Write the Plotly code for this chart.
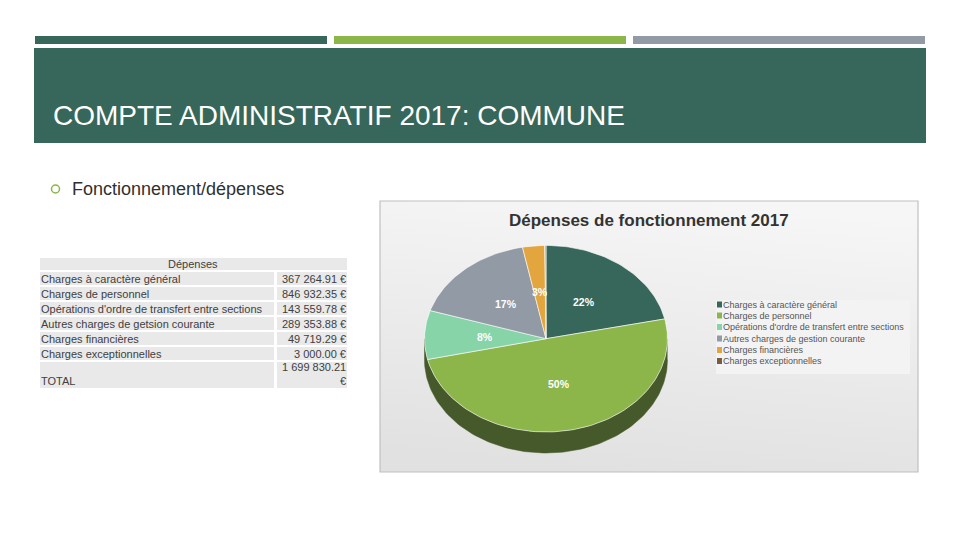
import base64
import math
import plotly.graph_objects as go

# ---------- data ----------
categories = ["Charges à caractère général", "Charges de personnel",
              "Opérations d'ordre de transfert entre sections",
              "Autres charges de getsion courante", "Charges financières",
              "Charges exceptionnelles"]
values = [367264.91, 846932.35, 143559.78, 289353.88, 49719.29, 3000.00]
amounts = ["367 264.91 €", "846 932.35 €", "143 559.78 €", "289 353.88 €",
           "49 719.29 €", "3 000.00 €"]
total_lines = ["1 699 830.21", "€"]
pct_labels = ["22%", "50%", "8%", "17%", "3%", ""]
legend_names = ["Charges à caractère général", "Charges de personnel",
                "Opérations d'ordre de transfert entre sections",
                "Autres charges de gestion courante", "Charges financières",
                "Charges exceptionnelles"]
colors = ["#37675a", "#8cb54a", "#86d4a8", "#929aa6", "#e3a63f", "#7d5a3c"]
side_color = "#46592a"

CX, CY, RX, RY, DEPTH = 546, 338.7, 121.5, 93.3, 21
FONT = "Liberation Sans"
INK = "#404040"
TABLE_BG = "#e9e9e9"

fig = go.Figure()
shapes, notes = [], []


def rect(x0, y0, x1, y1, fill, line=None, layer="below", width=1):
    shapes.append(dict(type="rect", xref="x", yref="y", x0=x0, y0=y0, x1=x1, y1=y1,
                       fillcolor=fill, layer=layer,
                       line=dict(color=line or fill, width=width if line else 0)))


def text(x, y, s, size, color=INK, anchor="left", bold=False):
    notes.append(dict(x=x, y=y, xref="x", yref="y", text=f"<b>{s}</b>" if bold else s,
                      showarrow=False, xanchor=anchor, yanchor="middle", borderpad=0,
                      font=dict(family=FONT, size=size, color=color)))


# header
rect(35, 36, 327, 44, "#37675a")
rect(334, 36, 626, 44, "#8cb54a")
rect(633, 36, 925, 44, "#929aa6")
rect(34, 48, 926, 143, "#37675a")
text(52, 115, "COMPTE ADMINISTRATIF 2017: COMMUNE", 28, "#ffffff")
shapes.append(dict(type="circle", xref="x", yref="y", x0=51.5, y0=185, x1=59.5, y1=193,
                   fillcolor="rgba(0,0,0,0)", line=dict(color="#8cb54a", width=1.5)))
text(71, 189, "Fonctionnement/dépenses", 18, "#303030")

# table
rect(40, 258, 347, 270, TABLE_BG)
text(193, 264, "Dépenses", 11, INK, "center")
row_tops = [272, 287, 302, 317, 332, 347]
for top, name, amount in zip(row_tops, categories, amounts):
    rect(40, top, 274, top + 13, TABLE_BG)
    rect(277, top, 347, top + 13, TABLE_BG)
    text(40, top + 7, name, 11)
    text(347, top + 7, amount, 11, INK, "right")
rect(40, 362, 274, 388, TABLE_BG)
rect(277, 362, 347, 388, TABLE_BG)
text(40, 381, "TOTAL", 11)
text(347, 366.5, total_lines[0], 11, INK, "right")
text(347, 381, total_lines[1], 11, INK, "right")

# chart panel with gradient
svg = ('<svg xmlns="http://www.w3.org/2000/svg" width="538" height="271" preserveAspectRatio="none">'
       '<defs><linearGradient id="g" x1="0.6" y1="0" x2="0.4" y2="1">'
       '<stop offset="0" stop-color="#f6f6f6"/><stop offset="1" stop-color="#e1e1e1"/>'
       '</linearGradient></defs><rect width="538" height="271" fill="url(#g)"/></svg>')
fig.add_layout_image(dict(source="data:image/svg+xml;base64," + base64.b64encode(svg.encode()).decode(),
                          xref="x", yref="y", x=380, y=201, sizex=538, sizey=271,
                          sizing="stretch", xanchor="left", yanchor="top", layer="below"))
rect(380, 201, 918, 472, "rgba(0,0,0,0)", "#c0c0c0", "above", 1.2)
text(648.5, 220, "Dépenses de fonctionnement 2017", 17, "#333333", "center", True)

# pie geometry from the values
total = sum(values)


def pt(frac):
    a = 2 * math.pi * frac
    return CX + RX * math.sin(a), CY - RY * math.cos(a)


# side wall (front half)
front = [0.25 + 0.5 * i / 120 for i in range(121)]
wx = [pt(f)[0] for f in front] + [pt(f)[0] for f in reversed(front)]
wy = [pt(f)[1] + DEPTH for f in front] + [pt(f)[1] for f in reversed(front)]
fig.add_trace(go.Scatter(x=wx, y=wy, fill="toself", fillcolor=side_color, mode="lines",
                         line=dict(color=side_color, width=0.5), hoverinfo="skip",
                         showlegend=False))

cum = 0.0
mids = []
for name, v, c in zip(categories, values, colors):
    f0, f1 = cum, cum + v / total
    cum = f1
    mids.append((f0 + f1) / 2)
    n = max(3, int((f1 - f0) * 240))
    pts = [pt(f0 + (f1 - f0) * i / n) for i in range(n + 1)]
    fig.add_trace(go.Scatter(x=[CX] + [p[0] for p in pts] + [CX],
                             y=[CY] + [p[1] for p in pts] + [CY],
                             fill="toself", fillcolor=c, mode="lines", name=name,
                             line=dict(color="rgba(255,255,255,0.75)", width=0.8),
                             showlegend=False, hoverinfo="name"))

# data labels sit at half the radius along each slice's mid angle
for m, lab in zip(mids, pct_labels):
    if lab:
        a = 2 * math.pi * m
        text(CX + 0.5 * RX * math.sin(a), CY - 0.5 * RY * math.cos(a), lab, 10.5, "#ffffff", "center", True)

# legend
rect(716, 300, 910, 374, "#f3f3f3", layer="above")
leg_y = [304.5, 315.5, 327, 338.5, 350, 361]
for y, name, c in zip(leg_y, legend_names, colors):
    rect(717, y - 3, 722, y + 3, c, layer="above")
    text(722, y, name, 9, "#555555")

fig.update_layout(width=960, height=540, margin=dict(l=0, r=0, t=0, b=0),
                  paper_bgcolor="#ffffff", plot_bgcolor="rgba(0,0,0,0)", showlegend=False,
                  xaxis=dict(range=[0, 960], visible=False, fixedrange=True),
                  yaxis=dict(range=[540, 0], visible=False, fixedrange=True),
                  shapes=shapes, annotations=notes)
fig.write_html("out.html", config={"displayModeBar": False},
               post_script="document.body.style.margin='0';document.body.style.overflow='hidden';")
